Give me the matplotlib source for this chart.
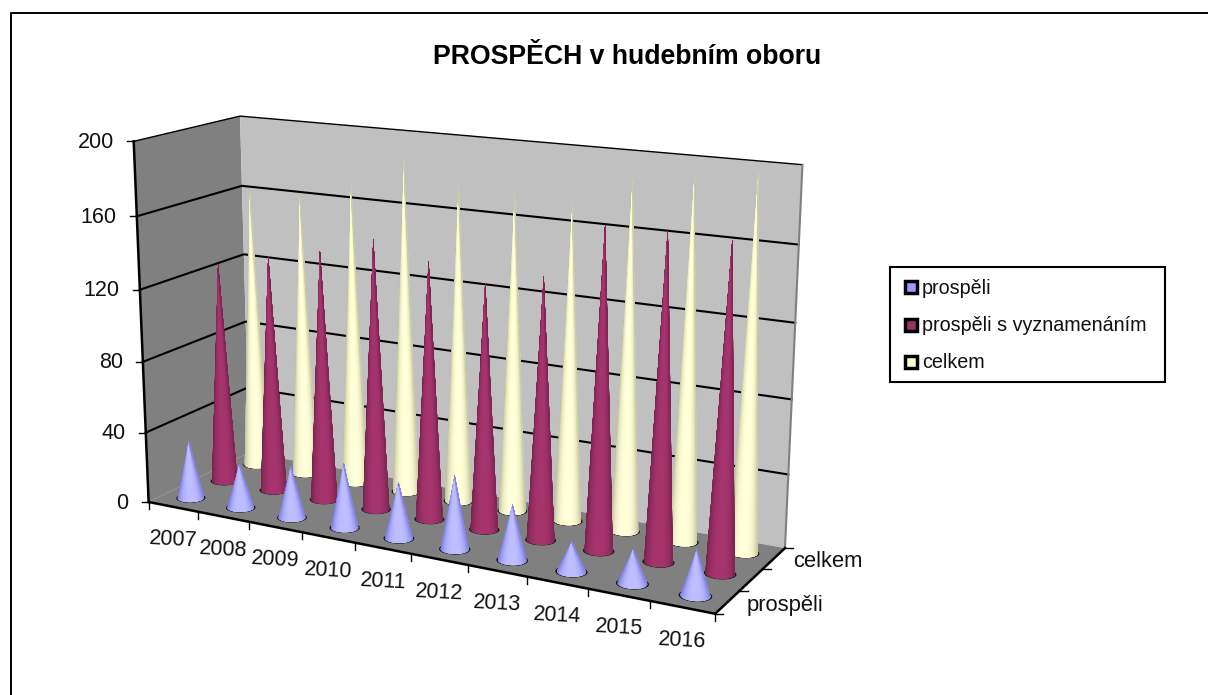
import numpy as np
import matplotlib
matplotlib.use("Agg")
import matplotlib.pyplot as plt
from matplotlib.collections import PolyCollection
from matplotlib.patches import Polygon

plt.rcParams["font.family"] = ["Liberation Sans", "DejaVu Sans"]

# Data
years = ["2007", "2008", "2009", "2010", "2011", "2012", "2013", "2014", "2015", "2016"]
series_names = ["prospěli", "prospěli s vyznamenáním", "celkem"]
prospeli = [33, 25, 29, 36, 31, 40, 30, 16, 18, 24]
vyznamenani = [126, 134, 140, 150, 142, 134, 141, 171, 172, 170]
celkem = [160, 161, 170, 187, 176, 175, 173, 188, 193, 197]
y_ticks = [0, 40, 80, 120, 160, 200]
y_max = 200

colors = ["#9999FF", "#993366", "#FFFFCC"]
shade_edge = ["#7C7CE6", "#7A2350", "#C4C4A0"]
shade_mid = ["#BEBEFF", "#A5346C", "#FFFFD8"]

# Camera calibration: box position (u along years, v into depth, w up) -> pixel
calibration = [
    (0, 0, 0, 149, 502), (1, 0, 0, 716, 613), (1, 1, 0, 785, 545), (0, 1, 0, 247, 453),
    (0, 0, 1, 132, 142), (0, 1, 1, 240, 116), (1, 1, 1, 803, 165),
    (.1, 0, 0, 199, 512), (.2, 0, 0, 249, 522), (.3, 0, 0, 301, 532), (.4, 0, 0, 356, 542.5),
    (.5, 0, 0, 411, 553), (.6, 0, 0, 468, 564.5), (.7, 0, 0, 527, 576), (.8, 0, 0, 588, 588),
    (.9, 0, 0, 650, 600),
    (0, 0, .2, 146, 432), (0, 0, .4, 143, 362), (0, 0, .6, 140, 290), (0, 0, .8, 136, 216),
    (0, 1, .2, 248, 387), (0, 1, .4, 247, 321), (0, 1, .6, 246, 254), (0, 1, .8, 242, 186),
    (1, 1, .2, 787, 474), (1, 1, .4, 791, 398), (1, 1, .6, 795, 323), (1, 1, .8, 799, 245),
    (.05, 1 / 6, 0, 192, 498), (.95, 1 / 6, 0, 695, 598),
    (.05, .5, 0, 225, 481), (.95, .5, 0, 720, 577),
    (.05, 5 / 6, 0, 255, 466), (.95, 5 / 6, 0, 745, 555),
]


# Fit a perspective camera to the calibration points
def fit_camera(points):
    rows = []
    for u, v, w, px, py in points:
        px, py = px / 1000, py / 1000
        rows.append([u, v, w, 1, 0, 0, 0, 0, -px * u, -px * v, -px * w, -px])
        rows.append([0, 0, 0, 0, u, v, w, 1, -py * u, -py * v, -py * w, -py])
    _, _, vt = np.linalg.svd(np.array(rows, dtype=float))
    return vt[-1].reshape(3, 4)


camera = fit_camera(calibration)


# Box coordinates to pixels
def project(u, v, w):
    u, v, w = np.broadcast_arrays(u, v, w)
    pts = np.stack([u, v, w, np.ones_like(u, dtype=float)], axis=-1)
    h = pts @ camera.T
    return np.stack([h[..., 0] / h[..., 2], h[..., 1] / h[..., 2]], axis=-1) * 1000


def mix(c1, c2, t):
    c1 = np.array(matplotlib.colors.to_rgb(c1))
    c2 = np.array(matplotlib.colors.to_rgb(c2))
    return c1 + (c2 - c1) * t


# One cone: a fan of thin triangles over the front of the base, clipped to the outline
def draw_cone(ax, u, v, value, series):
    ru, rv = 0.022, 0.07
    theta = np.linspace(0, 2 * np.pi, 241)
    base = project(u + ru * np.cos(theta), v + rv * np.sin(theta), 0.0 * theta)[:-1]
    rim = project(u + 1.12 * ru * np.cos(theta), v + 1.12 * rv * np.sin(theta), 0.0 * theta)
    tip = project(u, v, value / y_max)
    ax.fill(rim[:, 0], rim[:, 1], color="#1A1A1A", lw=0, zorder=3)

    # angle of every base point seen from the tip, the extremes give the outline
    angle = np.arctan2(base[:, 0] - tip[0], base[:, 1] - tip[1])
    left, right = np.argmin(angle), np.argmax(angle)
    n = len(base)
    arc1 = [(left + k) % n for k in range((right - left) % n + 1)]
    arc2 = [(right + k) % n for k in range((left - right) % n + 1)][::-1]
    arc = arc1 if base[arc1, 1].max() > base[arc2, 1].max() else arc2

    front = base[arc]
    mid = (angle[left] + angle[right]) / 2
    half = (angle[right] - angle[left]) / 2
    tris, cols = [], []
    for i in range(len(front) - 1):
        tris.append([tip, front[i], front[i + 1]])
        s = ((angle[arc[i]] + angle[arc[i + 1]]) / 2 - mid) / half
        cols.append(mix(shade_mid[series], shade_edge[series], min(1, abs(s - 0.05) ** 3)))
    outline = Polygon(np.vstack([tip, front]), closed=True, transform=ax.transData)
    pc = PolyCollection(tris, facecolors=cols, edgecolors=cols, linewidths=0.6, zorder=3,
                        joinstyle="round")
    ax.add_collection(pc)
    pc.set_clip_path(outline)


fig = plt.figure(figsize=(12.08, 6.95), dpi=100)
ax = fig.add_axes([0, 0, 1, 1])
ax.set_xlim(0, 1208)
ax.set_ylim(695, 0)
ax.axis("off")

# Chart frame
ax.plot([10.5, 10.5, 1208], [695, 12.5, 12.5], color="black", lw=1.4, zorder=1)

# Walls and floor
ax.fill(*project([0, 0, 0, 0], [0, 1, 1, 0], [0, 0, 1, 1]).T, color="#808080", lw=0, zorder=1)
ax.fill(*project([0, 1, 1, 0], [1, 1, 1, 1], [0, 0, 1, 1]).T, color="#C0C0C0", lw=0, zorder=1)
ax.fill(*project([0, 1, 1, 0], [0, 0, 1, 1], [0, 0, 0, 0]).T, color="#808080", lw=0, zorder=1)

# Gridlines along left wall and back wall
for tick in y_ticks[1:]:
    w = tick / y_max
    line = project([0, 0, 1], [0, 1, 1], [w, w, w])
    ax.plot(line[:, 0], line[:, 1], color="black", lw=1.5 if tick < y_max else 1.0, zorder=2)
edge = project([1, 1], [1, 1], [0, 1])
ax.plot(edge[:, 0], edge[:, 1], color="#808080", lw=1.5, zorder=2)

# Cones, back row first
values = [prospeli, vyznamenani, celkem]
for s in [2, 1, 0]:
    for i in range(len(years)):
        draw_cone(ax, (i + 0.5) / len(years), (s + 0.5) / 3, values[s][i], s)

# Axis lines
for a, b in [((0, 0, 0), (0, 0, 1)), ((0, 0, 0), (1, 0, 0)), ((1, 0, 0), (1, 1, 0))]:
    line = project(*np.array([a, b]).T)
    ax.plot(line[:, 0], line[:, 1], color="black", lw=1.8, zorder=4)

# Value axis ticks and labels
for tick in y_ticks:
    p = project(0, 0, tick / y_max)
    ax.plot([p[0] - 7, p[0]], [p[1], p[1]], color="black", lw=1, zorder=4)
    ax.text(p[0] - 20, p[1] + 1, str(tick), ha="right", va="center", fontsize=15.5, color="#111111")

# Year ticks and labels
for i in range(len(years) + 1):
    p = project(i / len(years), 0, 0)
    ax.plot([p[0], p[0]], [p[1], p[1] + 7], color="black", lw=1, zorder=4)
for i, year in enumerate(years):
    p = project((i + 0.5) / len(years), 0, 0)
    ax.text(p[0], p[1] + 33, year, ha="center", va="center", fontsize=15.5, rotation=-3,
            color="#111111")

# Depth axis ticks and labels, the middle series name does not fit
for k in range(4):
    p = project(1, k / 3, 0)
    ax.plot([p[0], p[0] + 8], [p[1], p[1]], color="black", lw=1, zorder=4)
for s in [0, 2]:
    p = project(1, (s + 0.5) / 3, 0)
    ax.text(p[0] + 19, p[1] + 3, series_names[s], ha="left", va="center", fontsize=15.8, color="#111111")

# Title
ax.text(627, 57, "PROSPĚCH v hudebním oboru", ha="center", va="center", fontsize=19.2,
        fontweight="bold", color="black")

# Legend box
ax.fill([890, 1165, 1165, 890], [267, 267, 382, 382], facecolor="white", edgecolor="black", lw=1.5, zorder=5)
for s, name in enumerate(series_names):
    y = 287 + s * 37.5
    ax.fill([905, 917, 917, 905], [y - 6, y - 6, y + 6, y + 6], facecolor=colors[s],
            edgecolor="black", lw=2.5, zorder=6)
    ax.text(922, y + 1, name, ha="left", va="center", fontsize=14.2, color="#111111", zorder=6)

fig.savefig("out.png", dpi=100)
